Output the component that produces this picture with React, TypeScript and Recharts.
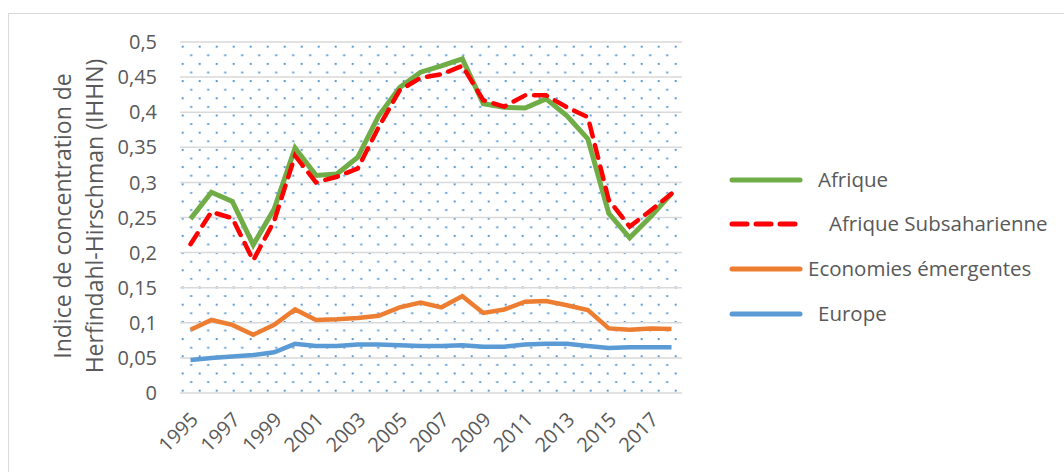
import React from "react";
import { LineChart, Line, XAxis, YAxis, CartesianGrid } from "recharts";

const years = [
  "1995", "1996", "1997", "1998", "1999", "2000", "2001", "2002", "2003", "2004", "2005", "2006",
  "2007", "2008", "2009", "2010", "2011", "2012", "2013", "2014", "2015", "2016", "2017", "2018",
];

const afrique = [
  0.248, 0.286, 0.273, 0.211, 0.262, 0.349, 0.31, 0.312, 0.336, 0.395, 0.435, 0.457,
  0.466, 0.476, 0.412, 0.407, 0.406, 0.419, 0.395, 0.362, 0.256, 0.221, 0.251, 0.284,
];

const afriqueSub = [
  0.212, 0.258, 0.249, 0.189, 0.245, 0.338, 0.3, 0.308, 0.32, 0.379, 0.431, 0.449,
  0.454, 0.466, 0.417, 0.408, 0.424, 0.424, 0.407, 0.393, 0.275, 0.237, 0.26, 0.284,
];

const emergentes = [
  0.09, 0.104, 0.097, 0.083, 0.097, 0.119, 0.104, 0.105, 0.107, 0.11, 0.122, 0.129,
  0.122, 0.138, 0.114, 0.119, 0.13, 0.131, 0.125, 0.118, 0.092, 0.09, 0.092, 0.091,
];

const europe = [
  0.047, 0.05, 0.052, 0.054, 0.058, 0.07, 0.067, 0.067, 0.069, 0.069, 0.068, 0.067,
  0.067, 0.068, 0.066, 0.066, 0.069, 0.07, 0.07, 0.067, 0.064, 0.065, 0.065, 0.065,
];

const yTicks = [0, 0.05, 0.1, 0.15, 0.2, 0.25, 0.3, 0.35, 0.4, 0.45, 0.5];

const data = years.map((year, i) => ({
  year,
  afrique: afrique[i],
  afriqueSub: afriqueSub[i],
  emergentes: emergentes[i],
  europe: europe[i],
}));

const FONT = "'Open Sans', sans-serif";
const TEXT = "#595959";

const legendItems = [
  { label: "Afrique", color: "#70AD47", dash: undefined, textX: 818, y: 180 },
  { label: "Afrique Subsaharienne", color: "#FF0000", dash: "15 9", textX: 829, y: 224 },
  { label: "Economies émergentes", color: "#ED7D31", dash: undefined, textX: 808, y: 269 },
  { label: "Europe", color: "#5B9BD5", dash: undefined, textX: 818, y: 314 },
];

function XTick(props: any) {
  const { x, y, payload } = props;
  return (
    <g transform={`translate(${x + 4},${y + 15})`}>
      <text
        textAnchor="end"
        transform="rotate(-45)"
        fill={TEXT}
        fontSize={20}
        fontFamily={FONT}
        dy="0.35em"
      >
        {payload.value}
      </text>
    </g>
  );
}

export default function App() {
  return (
    <div style={{ position: "absolute", left: 0, top: 0, width: 1064, height: 472, background: "#fff", overflow: "hidden" }}>
      <div
        style={{
          position: "absolute",
          left: 8,
          top: 13,
          width: 1070,
          height: 470,
          border: "1.5px solid #D9D9D9",
          boxSizing: "border-box",
        }}
      />
      <LineChart
        width={1064}
        height={472}
        data={data}
        margin={{ top: 42, right: 382, bottom: 49, left: 0 }}
        style={{ position: "absolute", left: 0, top: 0 }}
      >
        <defs>
          <pattern id="dots" patternUnits="userSpaceOnUse" x={181.7} y={45.7} width={17} height={17.2}>
            <rect x={0} y={0} width={2} height={2} fill="#5B9BD5" />
            <rect x={8.5} y={8.6} width={2} height={2} fill="#5B9BD5" />
          </pattern>
        </defs>
        <CartesianGrid vertical={false} stroke="#D9D9D9" strokeWidth={1.5} fill="url(#dots)" />
        <XAxis
          dataKey="year"
          interval={1}
          height={30}
          padding={{ left: 10.5, right: 10.5 }}
          axisLine={false}
          tickLine={false}
          tick={<XTick />}
        />
        <YAxis
          domain={[0, 0.5]}
          ticks={yTicks}
          width={180}
          axisLine={false}
          tickLine={false}
          tickMargin={17}
          tick={{ fill: TEXT, fontSize: 20, fontFamily: FONT }}
          tickFormatter={(v: number) => String(v).replace(".", ",")}
        />
        <Line type="linear" dataKey="europe" stroke="#5B9BD5" strokeWidth={4.5} dot={false} isAnimationActive={false} />
        <Line type="linear" dataKey="emergentes" stroke="#ED7D31" strokeWidth={4.5} dot={false} isAnimationActive={false} />
        <Line type="linear" dataKey="afrique" stroke="#70AD47" strokeWidth={5} dot={false} isAnimationActive={false} />
        <Line
          type="linear"
          dataKey="afriqueSub"
          stroke="#FF0000"
          strokeWidth={4.5}
          strokeDasharray="13 9"
          strokeLinecap="round"
          dot={false}
          isAnimationActive={false}
        />
      </LineChart>
      <div
        style={{
          position: "absolute",
          left: 78,
          top: 216,
          transform: "translate(-50%, -50%) rotate(-90deg)",
          color: TEXT,
          fontFamily: FONT,
          fontSize: 23,
          lineHeight: "32px",
          textAlign: "center",
          whiteSpace: "nowrap",
        }}
      >
        Indice de concentration de
        <br />
        Herfindahl-Hirschman (IHHN)
      </div>
      <svg width={1064} height={472} style={{ position: "absolute", left: 0, top: 0, pointerEvents: "none" }}>
        {legendItems.map((it) => (
          <g key={it.label}>
            <line
              x1={732}
              x2={800}
              y1={it.y}
              y2={it.y}
              stroke={it.color}
              strokeWidth={5}
              strokeLinecap="round"
              strokeDasharray={it.dash}
            />
            <text x={it.textX} y={it.y} dy="0.35em" fill={TEXT} fontSize={20.5} fontFamily={FONT}>
              {it.label}
            </text>
          </g>
        ))}
      </svg>
    </div>
  );
}
